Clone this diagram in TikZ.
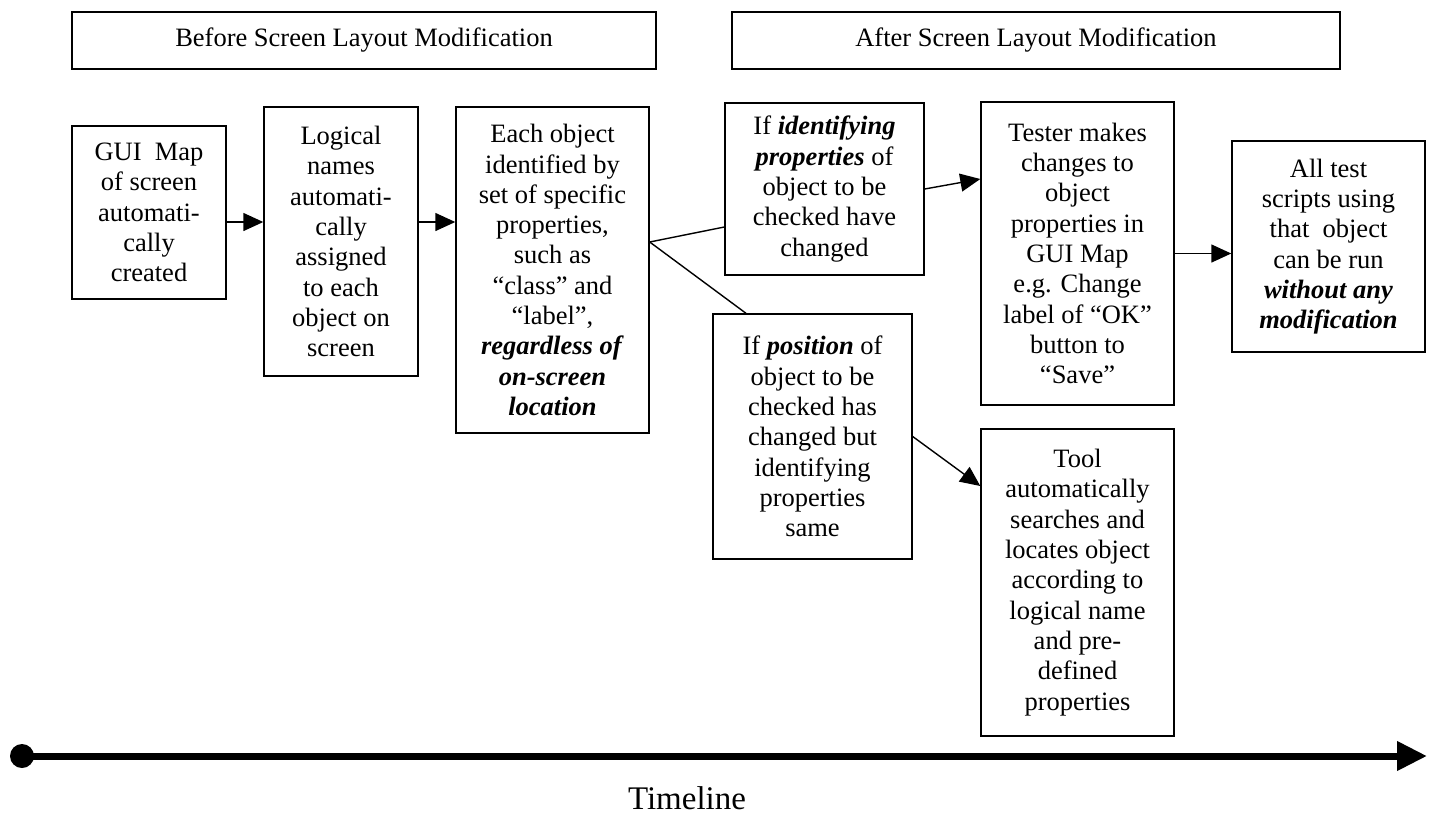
\documentclass[tikz,border=0pt]{standalone}
\usepackage{fontspec}
\setmainfont{Liberation Serif}
\usepackage{tikz}
\usetikzlibrary{arrows.meta, positioning}

\begin{document}
\begin{tikzpicture}[
    x=0.5pt, y=-0.5pt,
    box/.style={draw, line width=0.7pt, align=center, inner sep=2pt,
                font=\fontsize{13.25}{15.15}\selectfont},
    head/.style={draw, line width=0.7pt, minimum height=28.5pt,
                 font=\fontsize{13.25}{15}\selectfont},
    arr/.style={-{Triangle[length=10pt, width=9pt]}, line width=0.7pt},
    timeline/.style={-{Triangle[length=15pt, width=14pt]}, line width=3.5pt}
  ]
    \useasboundingbox (0,0) rectangle (1430,815);

    % phase headers
    \node[head, minimum width=292pt] (before) at (364,40.5) {Before Screen Layout Modification};
    \node[head, minimum width=304pt] (after) at (1036,40.5) {After Screen Layout Modification};

    % steps before the layout change
    \node[box, minimum width=77pt, minimum height=86.5pt] (gui) at (149,212.5)
      {GUI\ \ Map\\of screen\\automati-\\cally\\created};
    \node[box, minimum width=77pt, minimum height=134.5pt] (names) at (341,241.5)
      {Logical\\names\\automati-\\cally\\assigned\\to each\\object on\\screen};
    \node[box, minimum width=96.5pt, minimum height=163pt] (props) at (552.5,270)
      {Each object\\identified by\\set of specific\\properties,\\such as\\``class'' and\\``label'',\\
       \textbf{\textit{regardless of}}\\\textbf{\textit{on-screen}}\\\textbf{\textit{location}}};

    % the two cases after the change
    \node[box, minimum width=99.5pt, minimum height=86pt] (idchg) at (824.5,189)
      {If \textbf{\textit{identifying}}\\\textbf{\textit{properties}} of\\object to be\\checked have\\changed};
    \node[box, minimum width=99.5pt, minimum height=122.5pt] (poschg) at (812.5,436.5)
      {If \textbf{\textit{position}} of\\object to be\\checked has\\changed but\\identifying\\properties\\same};
    \node[box, minimum width=96.5pt, minimum height=151.5pt] (tester) at (1077.5,253.5)
      {Tester makes\\changes to\\object\\properties in\\GUI Map\\e.g. Change\\label of ``OK''\\button to\\``Save''};
    \node[box, minimum width=96.5pt, minimum height=105.5pt] (alltest) at (1328.5,246.5)
      {All test\\scripts using\\that\ \ object\\can be run\\\textbf{\textit{without any}}\\\textbf{\textit{modification}}};
    \node[box, minimum width=96.5pt, minimum height=153.5pt] (tool) at (1077.5,582.5)
      {Tool\\automatically\\searches and\\locates object\\according to\\logical name\\and pre-\\defined\\properties};

    % connectors
    \coordinate (row) at (0,222);
    \draw[arr] (gui.east |- row) -- (names.west |- row);
    \draw[arr] (names.east |- row) -- (props.west |- row);
    \coordinate (fork) at ([yshift=14pt]props.east);
    \draw[line width=0.7pt] (fork) -- ([yshift=-19pt]idchg.west);
    \draw[line width=0.7pt] (fork) -- ([xshift=-33.25pt]poschg.north);
    \draw[arr] (idchg.east) -- ([yshift=37.25pt]tester.west);
    \draw[arr] (poschg.east) -- ([yshift=48.25pt]tool.west);
    \draw[arr] (tester.east) -- (alltest.west |- tester.east);

    % time axis
    \node[circle, fill, minimum size=12pt, inner sep=0pt] (tstart) at (22,756) {};
    \coordinate (tend) at (1427,756);
    \draw[timeline] (tstart.center) -- (tend);
    \node[font=\fontsize{16.5}{19}\selectfont] (tlabel) at (687,798) {Timeline};
\end{tikzpicture}
\end{document}
